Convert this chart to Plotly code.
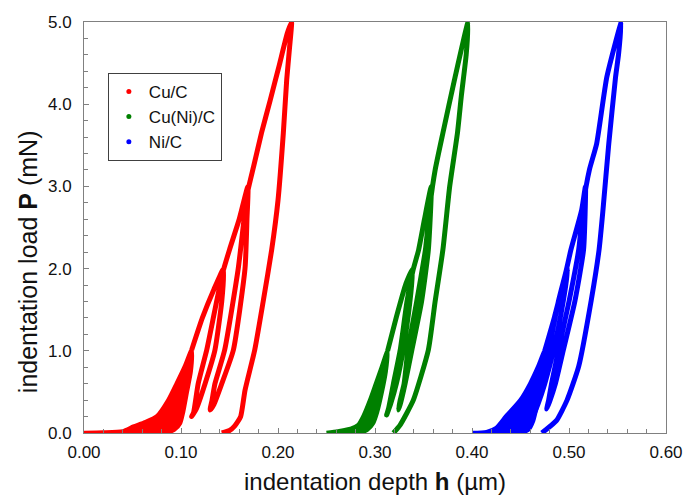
import plotly.graph_objects as go

# ---------------- data ----------------
series_names = ["Cu/C", "Cu(Ni)/C", "Ni/C"]
series_colors = ["#ff0000", "#008000", "#0000ff"]

x_tick_vals = [0.0, 0.1, 0.2, 0.3, 0.4, 0.5, 0.6]
y_tick_vals = [0.0, 1.0, 2.0, 3.0, 4.0, 5.0]

# Cu/C : first cycle to 1 mN (dense band), then the partial-unload cycles
cu_band_h = [0.0, 0.02, 0.04, 0.051, 0.063, 0.075, 0.087, 0.0955, 0.104, 0.111,
             0.110, 0.106, 0.102, 0.099, 0.093, 0.085, 0.06]
cu_band_p = [0.0, 0.005, 0.02, 0.077, 0.13, 0.2, 0.4, 0.6, 0.81, 1.01,
             0.75, 0.5, 0.25, 0.12, 0.04, 0.01, 0.0]
cu_path_h = [0.111, 0.122, 0.134, 0.144,
             0.142, 0.135, 0.1248, 0.116, 0.111,
             0.113, 0.1177, 0.1265, 0.135, 0.143,
             0.150, 0.160, 0.169,
             0.168, 0.166, 0.154, 0.142, 0.134, 0.130,
             0.132, 0.135, 0.145, 0.159, 0.165, 0.169,
             0.175, 0.183, 0.192, 0.201, 0.2095, 0.214,
             0.212, 0.209, 0.2055, 0.200, 0.1935, 0.185, 0.176, 0.166, 0.1615, 0.155, 0.150, 0.142]
cu_path_p = [1.01, 1.4, 1.75, 2.0,
             1.6, 1.01, 0.6, 0.3, 0.2,
             0.25, 0.6, 1.01, 1.5, 1.95,
             2.23, 2.6, 3.0,
             2.6, 2.0, 1.01, 0.6, 0.35, 0.28,
             0.4, 0.6, 1.01, 2.0, 2.6, 2.95,
             3.25, 3.65, 4.05, 4.46, 4.86, 5.0,
             4.7, 4.3, 3.65, 2.83, 2.23, 1.62, 1.01, 0.52, 0.2, 0.08, 0.03, 0.0]

# Cu(Ni)/C
cuni_band_h = [0.25, 0.262, 0.275, 0.283, 0.288, 0.295, 0.301, 0.307, 0.313,
               0.311, 0.307, 0.302, 0.298, 0.292, 0.285, 0.27]
cuni_band_p = [0.0, 0.02, 0.05, 0.1, 0.2, 0.4, 0.6, 0.8, 1.0,
               0.75, 0.5, 0.25, 0.12, 0.04, 0.01, 0.0]
cuni_path_h = [0.313, 0.322, 0.332, 0.339,
               0.336, 0.329, 0.322, 0.316, 0.312,
               0.314, 0.319, 0.326, 0.333, 0.339,
               0.345, 0.351, 0.358,
               0.355, 0.348, 0.338, 0.331, 0.326, 0.324,
               0.326, 0.330, 0.334, 0.343, 0.352, 0.357,
               0.362, 0.370, 0.382, 0.396,
               0.394, 0.389, 0.385, 0.377, 0.370, 0.362, 0.355, 0.3395, 0.326, 0.319]
cuni_path_p = [1.0, 1.41, 1.82, 2.0,
               1.6, 1.01, 0.6, 0.35, 0.22,
               0.3, 0.6, 1.01, 1.6, 1.97,
               2.23, 2.6, 3.0,
               2.23, 1.6, 1.01, 0.6, 0.35, 0.28,
               0.4, 0.6, 1.01, 1.6, 2.23, 2.8,
               3.2, 3.65, 4.3, 5.0,
               4.6, 4.1, 3.65, 3.0, 2.23, 1.6, 1.01, 0.4, 0.1, 0.0]

# Ni/C
ni_band_h = [0.40, 0.415, 0.425, 0.435, 0.45, 0.46, 0.468, 0.475,
             0.473, 0.468, 0.463, 0.458, 0.45]
ni_band_p = [0.0, 0.01, 0.06, 0.2, 0.4, 0.6, 0.8, 1.0,
             0.7, 0.4, 0.15, 0.04, 0.0]
ni_path_h = [0.475, 0.485, 0.494, 0.499,
             0.494, 0.484, 0.475, 0.468, 0.463,
             0.465, 0.470, 0.479, 0.489, 0.497,
             0.502, 0.513, 0.517,
             0.515, 0.506, 0.494, 0.486, 0.480, 0.477,
             0.479, 0.482, 0.489, 0.500, 0.510, 0.515,
             0.521, 0.5285, 0.539, 0.554,
             0.551, 0.548, 0.541, 0.535, 0.531, 0.523, 0.510, 0.498, 0.487, 0.472]
ni_path_p = [1.0, 1.41, 1.82, 2.0,
             1.6, 1.0, 0.6, 0.35, 0.2,
             0.3, 0.6, 1.0, 1.6, 1.97,
             2.23, 2.71, 3.0,
             2.23, 1.6, 1.0, 0.6, 0.38, 0.29,
             0.4, 0.6, 1.0, 1.6, 2.23, 2.8,
             3.2, 3.52, 4.33, 5.0,
             4.6, 4.33, 3.52, 2.71, 2.23, 1.62, 0.81, 0.40, 0.15, 0.0]

bands = [(cu_band_h, cu_band_p), (cuni_band_h, cuni_band_p), (ni_band_h, ni_band_p)]
paths = [(cu_path_h, cu_path_p), (cuni_path_h, cuni_path_p), (ni_path_h, ni_path_p)]

# ---------------- figure ----------------
fig = go.Figure()
FONT = "Liberation Sans, Arial, sans-serif"

for name, color, (bh, bp), (ph, pp) in zip(series_names, series_colors, bands, paths):
    fig.add_trace(go.Scatter(x=bh, y=bp, mode="lines", fill="toself", fillcolor=color,
                             line=dict(color=color, width=4.5, shape="spline", smoothing=0.6),
                             showlegend=False, hoverinfo="skip"))
    fig.add_trace(go.Scatter(x=ph, y=pp, mode="lines",
                             line=dict(color=color, width=5, shape="spline", smoothing=0.5),
                             showlegend=False, name=name))
    fig.add_trace(go.Scatter(x=[None], y=[None], mode="markers", name=name,
                             marker=dict(color=color, size=5)))

axis_common = dict(showline=True, linecolor="#808080", linewidth=1, mirror=True,
                   showgrid=False, zeroline=False, ticks="inside", ticklen=5,
                   tickcolor="#808080", tickfont=dict(family=FONT, size=17, color="#111111"),
                   automargin=False)

fig.update_xaxes(range=[0, 0.6], tickvals=x_tick_vals, tickformat=".2f",
                 ticklabelstandoff=4,
                 minor=dict(ticks="inside", dtick=0.02, ticklen=4, tickcolor="#808080"),
                 title=dict(text="indentation depth <b>h</b> (µm)",
                            font=dict(family=FONT, size=24, color="#111111"), standoff=11),
                 **axis_common)
fig.update_yaxes(range=[0, 5], tickvals=y_tick_vals, tickformat=".1f",
                 ticklabelstandoff=8,
                 minor=dict(ticks="inside", dtick=0.2, ticklen=4, tickcolor="#808080"),
                 **axis_common)

# y-axis title sits lower than the axis centre in the reference
fig.add_annotation(text="indentation load <b>P</b> (mN)", textangle=-90,
                   xref="paper", yref="paper", x=-0.096, y=0.416,
                   xanchor="center", yanchor="middle", showarrow=False,
                   font=dict(family=FONT, size=25, color="#111111"))

fig.update_layout(
    width=685, height=497,
    margin=dict(l=84, r=19, t=22, b=64),
    paper_bgcolor="white", plot_bgcolor="white",
    legend=dict(x=0.041, y=0.876, xanchor="left", yanchor="top",
                bordercolor="#404040", borderwidth=1, bgcolor="white",
                font=dict(family=FONT, size=17, color="#111111"),
                itemwidth=30, tracegroupgap=0),
    showlegend=True,
)

# remove the default page-body margin so the 685x497 figure fills the window exactly
fig.write_html("out.html",
               config={"displayModeBar": False},
               post_script="document.body.style.margin='0';document.body.style.overflow='hidden';")
